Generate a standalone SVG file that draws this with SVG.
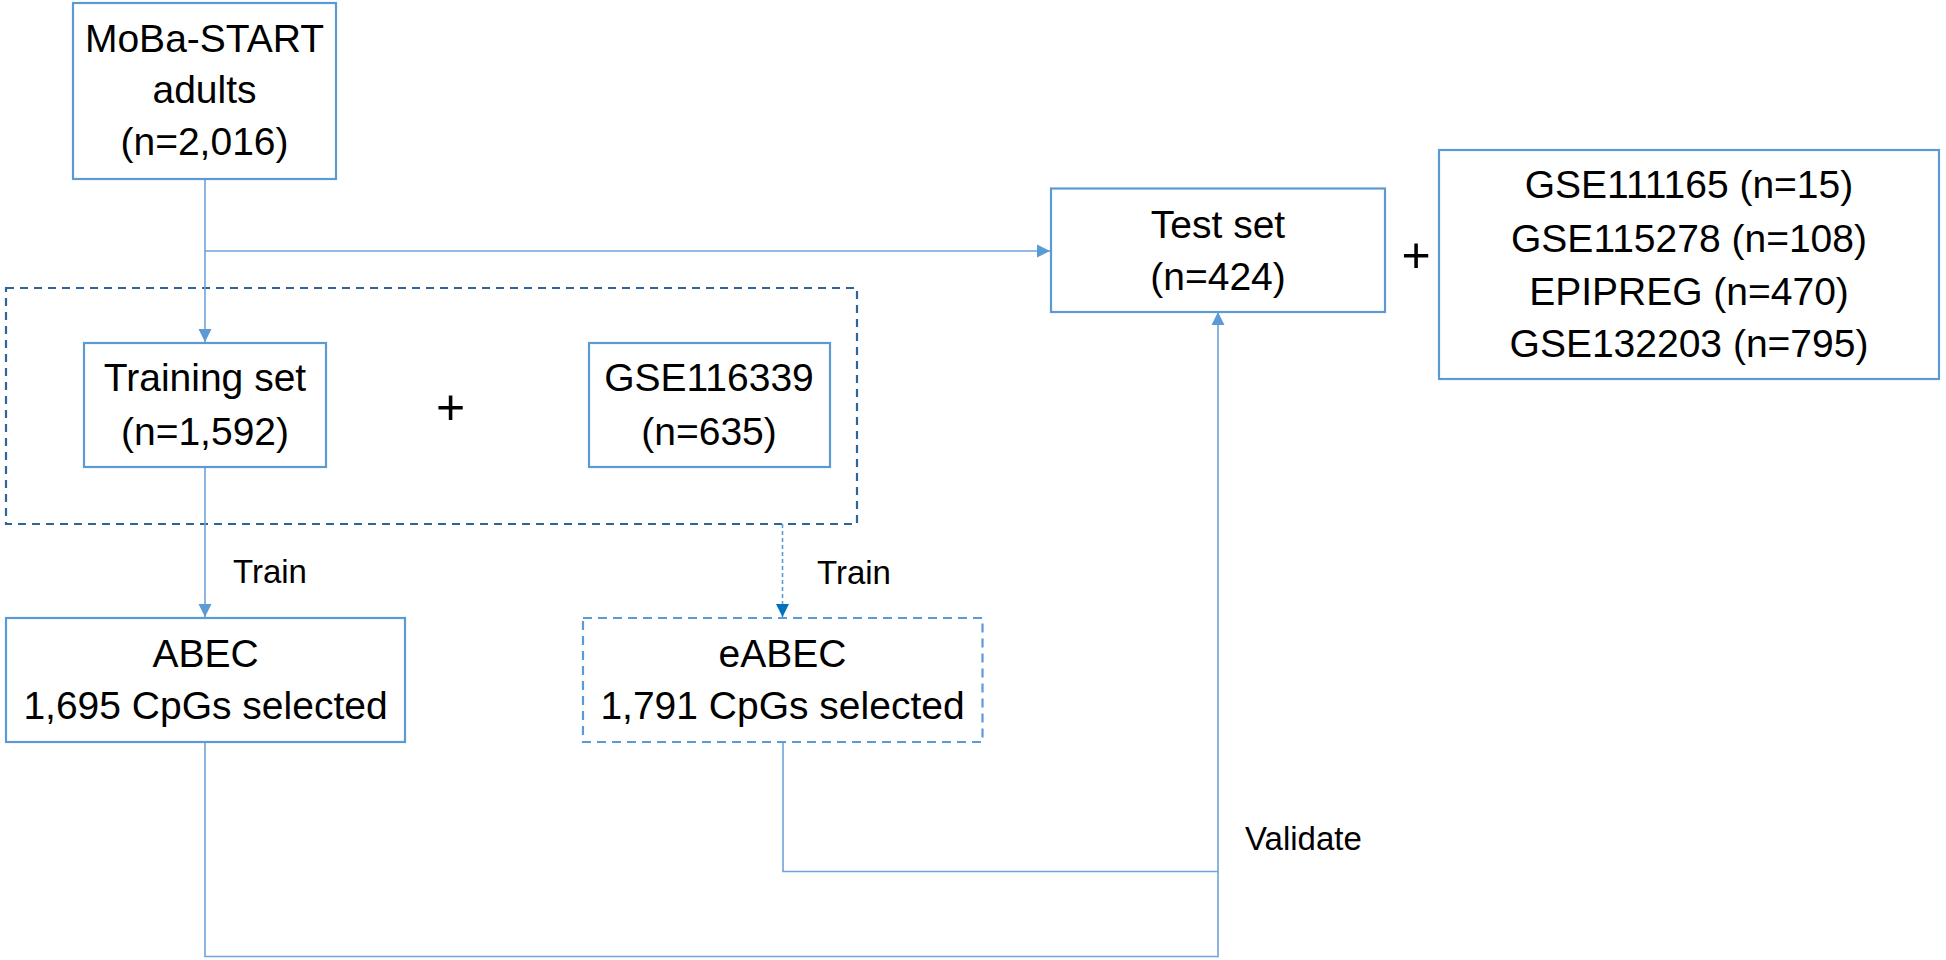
<svg xmlns="http://www.w3.org/2000/svg" width="1946" height="960" viewBox="0 0 1946 960">
<style>
.box{fill:#fff;stroke:#5B9BD5;stroke-width:2.2}
.dbox{fill:#fff;stroke:#5B9BD5;stroke-width:2.2;stroke-dasharray:9 6}
.grp{fill:none;stroke:#2F6599;stroke-width:2.2;stroke-dasharray:8 6}
.t{font-family:"Liberation Sans",Arial,sans-serif;font-size:39px;fill:#000;text-anchor:middle}
.lbl{font-family:"Liberation Sans",Arial,sans-serif;font-size:33px;fill:#000}
.plus{font-family:"Liberation Sans",Arial,sans-serif;font-size:50px;fill:#000;text-anchor:middle}
.c{fill:none;stroke:#6FA3D9;stroke-width:1.6}
.cd{fill:none;stroke:#5B9BD5;stroke-width:1.6;stroke-dasharray:4 3}
</style>
<defs>
<marker id="arr" markerUnits="userSpaceOnUse" markerWidth="14" markerHeight="14" viewBox="0 0 14 14" refX="13" refY="7" orient="auto">
<path d="M0,0.5 L13,7 L0,13.5 Z" fill="#5B9BD5"/>
</marker>
<marker id="arrd" markerUnits="userSpaceOnUse" markerWidth="14" markerHeight="14" viewBox="0 0 14 14" refX="13" refY="7" orient="auto">
<path d="M0,0.5 L13,7 L0,13.5 Z" fill="#0070C0"/>
</marker>
</defs>
<rect width="1946" height="960" fill="#fff"/>
<rect id="group-training" class="grp" x="6" y="288" width="851" height="236"/>
<g id="connectors">
<path class="c" d="M205,179 V342" marker-end="url(#arr)"/>
<path class="c" d="M205,251 H1050" marker-end="url(#arr)"/>
<path class="c" d="M205,467 V617" marker-end="url(#arr)"/>
<path class="cd" d="M782.5,524 V617" marker-end="url(#arrd)"/>
<path class="c" d="M205,742 V956.5 H1218 V312" marker-end="url(#arr)"/>
<path class="c" d="M783,742 V871.5 H1218"/>
</g>
<g id="node-moba">
<rect class="box" x="73" y="3" width="263" height="176"/>
<text class="t" x="204.5" y="52">MoBa-START</text>
<text class="t" x="204.5" y="103">adults</text>
<text class="t" x="204.5" y="155">(n=2,016)</text>
</g>
<g id="node-training">
<rect class="box" x="84" y="343" width="242" height="124"/>
<text class="t" x="205" y="391">Training set</text>
<text class="t" x="205" y="445">(n=1,592)</text>
</g>
<text class="plus" x="450.5" y="424">+</text>
<g id="node-gse116339">
<rect class="box" x="589" y="343" width="241" height="124"/>
<text class="t" x="709" y="391">GSE116339</text>
<text class="t" x="709" y="445">(n=635)</text>
</g>
<g id="node-abec">
<rect class="box" x="6" y="618" width="399" height="124"/>
<text class="t" x="205.5" y="667">ABEC</text>
<text class="t" x="205.5" y="719">1,695 CpGs selected</text>
</g>
<g id="node-eabec">
<rect class="dbox" x="583" y="618" width="399.5" height="124"/>
<text class="t" x="782.5" y="667">eABEC</text>
<text class="t" x="782.5" y="719">1,791 CpGs selected</text>
</g>
<g id="node-test">
<rect class="box" x="1051" y="188.5" width="334" height="123.5"/>
<text class="t" x="1218" y="238">Test set</text>
<text class="t" x="1218" y="290">(n=424)</text>
</g>
<text class="plus" x="1416" y="272">+</text>
<g id="node-external">
<rect class="box" x="1439" y="150" width="500" height="229"/>
<text class="t" x="1689" y="198">GSE111165 (n=15)</text>
<text class="t" x="1689" y="252">GSE115278 (n=108)</text>
<text class="t" x="1689" y="305">EPIPREG (n=470)</text>
<text class="t" x="1689" y="357">GSE132203 (n=795)</text>
</g>
<text class="lbl" x="233" y="583">Train</text>
<text class="lbl" x="817" y="584">Train</text>
<text class="lbl" x="1245" y="850">Validate</text>
</svg>
